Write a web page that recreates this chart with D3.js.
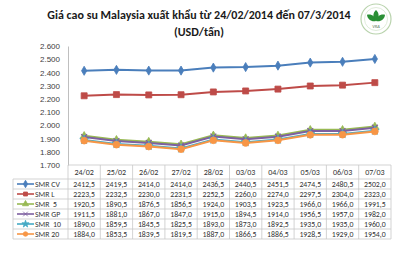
<!DOCTYPE html>
<html>
<head>
<meta charset="utf-8">
<script src="https://cdn.jsdelivr.net/npm/d3@7"></script>
<style>
  body { margin: 0; background: #fff; }
  svg { display: block; font-family: Calibri, Carlito, "Open Sans", sans-serif; }
</style>
</head>
<body>
<svg id="chart" width="400" height="262"></svg>
<script>
// data
var dates = ['24/02','25/02','26/02','27/02','28/02','03/03','04/03','05/03','06/03','07/03'];
var smrCV = [2412.5,2419.5,2414.0,2414.0,2436.5,2440.5,2451.5,2474.5,2480.5,2502.0];
var smrL  = [2223.5,2232.5,2230.0,2231.5,2252.5,2260.0,2274.0,2297.5,2304.0,2323.0];
var smr5  = [1920.5,1890.5,1876.5,1856.5,1924.0,1903.5,1923.5,1966.0,1966.0,1991.5];
var smrGP = [1911.5,1881.0,1867.0,1847.0,1915.0,1894.5,1914.0,1956.5,1957.0,1982.0];
var smr10 = [1890.0,1859.5,1845.5,1825.5,1893.0,1873.0,1892.5,1935.0,1935.0,1960.0];
var smr20 = [1884.0,1853.5,1839.5,1819.5,1887.0,1866.5,1886.5,1928.5,1929.0,1954.0];
var seriesNames = ['SMR CV','SMR L','SMR  5','SMR GP','SMR  10','SMR 20'];
var yTicks = [1700,1800,1900,2000,2100,2200,2300,2400,2500,2600];

var series = [
  {name: seriesNames[0], values: smrCV, color: '#4a7ebb', symbol: d3.symbolDiamond},
  {name: seriesNames[1], values: smrL,  color: '#be4b48', symbol: d3.symbolSquare},
  {name: seriesNames[2], values: smr5,  color: '#98b954', symbol: d3.symbolTriangle},
  {name: seriesNames[3], values: smrGP, color: '#7d60a0', symbol: d3.symbolTimes},
  {name: seriesNames[4], values: smr10, color: '#46aac5', symbol: d3.symbolStar},
  {name: seriesNames[5], values: smr20, color: '#f79646', symbol: d3.symbolCircle}
];

var svg = d3.select('#chart');
var plotL = 68, plotR = 391, plotT = 46, plotB = 165;
var tableLeft = 13, headerH = 14, rowH = 10;

function fmt(v){ return v.toFixed(1).replace('.', ','); }

var x = d3.scaleBand().domain(dates).range([plotL, plotR]);
var y = d3.scaleLinear().domain([1700, 2600]).range([plotB, plotT]);

// title
var title = svg.append('g').attr('font-weight', 'bold').attr('font-size', 12).attr('fill', '#1a1a1a')
  .attr('text-anchor', 'middle');
title.append('text').attr('x', 199).attr('y', 19).text('Giá cao su Malaysia  xuất khẩu từ 24/02/2014 đến 07/3/2014');
title.append('text').attr('x', 199).attr('y', 36).text('(USD/tấn)');

// logo
var logo = svg.append('g').attr('transform', 'translate(376,19)');
logo.append('circle').attr('r', 15).attr('fill', '#fff').attr('stroke', '#b9d3ad').attr('stroke-width', 1.2);
logo.append('circle').attr('r', 11.5).attr('fill', 'none').attr('stroke', '#d7e6cf').attr('stroke-width', 0.8);
var leaf = 'M0,0 C-3.5,-3 -3.5,-8 0,-11 C3.5,-8 3.5,-3 0,0 Z';
[-55, 0, 55].forEach(function(a){
  logo.append('path').attr('d', leaf).attr('fill', '#2a8f35')
    .attr('transform', 'translate(0,2) rotate(' + a + ')');
});
logo.append('text').attr('y', 9).attr('text-anchor', 'middle').attr('font-size', 4.5)
  .attr('font-style', 'italic').attr('fill', '#5a7a5a').text('VRA');

// y axis
var yAxis = d3.axisLeft(y).tickValues(yTicks).tickSize(0).tickPadding(8)
  .tickFormat(function(d){ return String(d).replace(/^(\d)(\d{3})$/, '$1.$2'); });
var ya = svg.append('g').attr('transform', 'translate(' + plotL + ',0)').call(yAxis);
ya.select('.domain').attr('stroke', '#bfbfbf');
ya.selectAll('text').attr('font-size', 8).attr('fill', '#404040').attr('font-family', null);

// table grid
var grid = svg.append('g').attr('stroke', '#c8c8c8').attr('stroke-width', 0.8).attr('fill', 'none');
var tableBottom = plotB + headerH + rowH * series.length;
grid.append('line').attr('x1', plotL).attr('x2', plotR).attr('y1', plotB).attr('y2', plotB);
d3.range(series.length + 1).forEach(function(i){
  var yy = plotB + headerH + i * rowH;
  grid.append('line').attr('x1', tableLeft).attr('x2', plotR).attr('y1', yy).attr('y2', yy);
});
dates.forEach(function(d){
  grid.append('line').attr('x1', x(d) + x.bandwidth()).attr('x2', x(d) + x.bandwidth())
    .attr('y1', plotB).attr('y2', tableBottom);
});
grid.append('line').attr('x1', plotL).attr('x2', plotL).attr('y1', plotB).attr('y2', tableBottom);
grid.append('line').attr('x1', tableLeft).attr('x2', tableLeft).attr('y1', plotB + headerH).attr('y2', tableBottom);

// header labels
svg.append('g').selectAll('text').data(dates).join('text')
  .attr('x', function(d){ return x(d) + x.bandwidth() / 2; })
  .attr('y', plotB + headerH / 2 + 3)
  .attr('text-anchor', 'middle').attr('font-size', 8).attr('fill', '#333')
  .text(function(d){ return d; });

var line = d3.line()
  .x(function(d, i){ return x(dates[i]) + x.bandwidth() / 2; })
  .y(function(d){ return y(d); });

// lines and markers
series.forEach(function(s){
  var g = svg.append('g');
  var isCross = s.symbol === d3.symbolTimes;
  g.append('path').attr('d', line(s.values)).attr('fill', 'none')
    .attr('stroke', s.color).attr('stroke-width', 2);
  g.selectAll('path.m').data(s.values).join('path').attr('class', 'm')
    .attr('d', d3.symbol().type(s.symbol).size(s.symbol === d3.symbolSquare || s.symbol === d3.symbolCircle ? 36 : 24))
    .attr('transform', function(d, i){ return 'translate(' + (x(dates[i]) + x.bandwidth() / 2) + ',' + y(d) + ')'; })
    .attr('fill', isCross ? 'none' : s.color)
    .attr('stroke', s.color).attr('stroke-width', isCross ? 1.3 : 0.8);
});

// table rows
series.forEach(function(s, r){
  var cy = plotB + headerH + r * rowH + rowH / 2;
  var isCross = s.symbol === d3.symbolTimes;
  var row = svg.append('g');
  row.append('line').attr('x1', 17).attr('x2', 34).attr('y1', cy).attr('y2', cy)
    .attr('stroke', s.color).attr('stroke-width', 1.6);
  row.append('path').attr('d', d3.symbol().type(s.symbol).size(16))
    .attr('transform', 'translate(25.5,' + cy + ')')
    .attr('fill', isCross ? 'none' : s.color).attr('stroke', s.color).attr('stroke-width', 0.8);
  row.append('text').attr('x', 35).attr('y', cy + 2.9).attr('font-size', 7.8).attr('fill', '#333')
    .style('white-space', 'pre').text(s.name);
  row.selectAll('text.v').data(s.values).join('text').attr('class', 'v')
    .attr('x', function(d, i){ return x(dates[i]) + x.bandwidth() / 2; })
    .attr('y', cy + 2.9).attr('text-anchor', 'middle').attr('font-size', 7.8).attr('fill', '#333')
    .text(fmt);
});
</script>
</body>
</html>
